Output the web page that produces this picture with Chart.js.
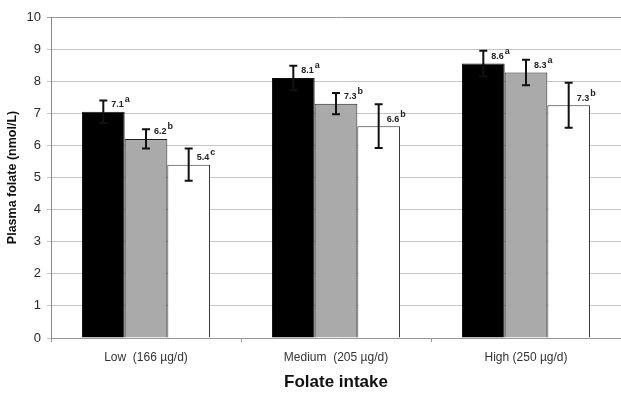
<!DOCTYPE html>
<html>
<head>
<meta charset="utf-8">
<script src="https://cdn.jsdelivr.net/npm/chart.js@4/dist/chart.umd.min.js"></script>
<style>
  html, body { margin: 0; padding: 0; background: #fff; }
  #wrap { width: 621px; height: 396px; }
</style>
</head>
<body>
<div id="wrap"><canvas id="folateChart" width="621" height="396"></canvas></div>
<script>
const categories = ['Low  (166 \u00b5g/d)', 'Medium  (205 \u00b5g/d)', 'High (250 \u00b5g/d)'];

// bar heights
const blackBars = [7.05, 8.1, 8.55];
const grayBars = [6.2, 7.3, 8.27];
const whiteBars = [5.4, 6.6, 7.25];

// +/- error
const blackErr = [0.35, 0.38, 0.4];
const grayErr = [0.3, 0.33, 0.4];
const whiteErr = [0.5, 0.68, 0.7];

// printed labels and significance letters
const blackLabels = ['7.1', '8.1', '8.6'];
const grayLabels = ['6.2', '7.3', '8.3'];
const whiteLabels = ['5.4', '6.6', '7.3'];
const blackLetters = ['a', 'a', 'a'];
const grayLetters = ['b', 'b', 'a'];
const whiteLetters = ['c', 'b', 'b'];

const yTicks = [0, 1, 2, 3, 4, 5, 6, 7, 8, 9, 10];

const fontFamily = 'Arial, "Liberation Sans", Helvetica, sans-serif';

const extras = [
  { err: blackErr, labels: blackLabels, letters: blackLetters },
  { err: grayErr, labels: grayLabels, letters: grayLetters },
  { err: whiteErr, labels: whiteLabels, letters: whiteLetters }
];

const errorBars = {
  id: 'errorBars',
  afterDatasetsDraw(chart) {
    const ctx = chart.ctx;
    const y = chart.scales.y;
    chart.data.datasets.forEach((ds, di) => {
      const meta = chart.getDatasetMeta(di);
      const ex = extras[di];
      meta.data.forEach((bar, i) => {
        const v = ds.data[i];
        const top = y.getPixelForValue(v + ex.err[i]);
        const bot = y.getPixelForValue(v - ex.err[i]);
        ctx.save();
        ctx.strokeStyle = '#111';
        ctx.lineWidth = 2;
        ctx.beginPath();
        ctx.moveTo(bar.x, top);
        ctx.lineTo(bar.x, bot);
        ctx.moveTo(bar.x - 4, top);
        ctx.lineTo(bar.x + 4, top);
        ctx.moveTo(bar.x - 4, bot);
        ctx.lineTo(bar.x + 4, bot);
        ctx.stroke();

        // value label + superscript letter
        ctx.fillStyle = '#222';
        ctx.textBaseline = 'middle';
        ctx.textAlign = 'left';
        ctx.font = 'bold 9px ' + fontFamily;
        const lx = bar.x + 8;
        const ly = bar.y - 7;
        ctx.fillText(ex.labels[i], lx, ly);
        const w = ctx.measureText(ex.labels[i]).width;
        ctx.font = 'bold 9px ' + fontFamily;
        ctx.fillText(ex.letters[i], lx + w + 1, ly - 5);
        ctx.restore();
      });
    });
  }
};

new Chart(document.getElementById('folateChart').getContext('2d'), {
  type: 'bar',
  data: {
    labels: categories,
    datasets: [
      { data: blackBars, backgroundColor: '#000', borderColor: '#111', borderWidth: 1 },
      { data: grayBars, backgroundColor: '#aaaaaa', borderColor: '#222', borderWidth: 1 },
      { data: whiteBars, backgroundColor: '#ffffff', borderColor: '#333', borderWidth: 1 }
    ]
  },
  options: {
    responsive: false,
    animation: false,
    devicePixelRatio: 1,
    categoryPercentage: 0.674,
    barPercentage: 1,
    layout: { padding: { top: 17, right: 0, left: 0, bottom: 0 } },
    plugins: {
      legend: { display: false },
      tooltip: { enabled: false }
    },
    scales: {
      x: {
        offset: true,
        afterFit(scale) { scale.height = 58; },
        grid: {
          offset: true,
          drawOnChartArea: false,
          drawTicks: true,
          tickLength: 4,
          color: '#999'
        },
        border: { color: '#999', width: 1 },
        ticks: {
          color: '#333',
          padding: 8,
          maxRotation: 0,
          font: { family: fontFamily, size: 12 }
        },
        title: {
          display: true,
          text: 'Folate intake',
          color: '#111',
          padding: { top: 0, bottom: 3 },
          font: { family: fontFamily, size: 17, weight: 'bold' }
        }
      },
      y: {
        min: 0,
        max: 10,
        afterFit(scale) { scale.width = 51; },
        afterBuildTicks(scale) { scale.ticks = yTicks.map(v => ({ value: v })); },
        grid: {
          color: (c) => c.tick && c.tick.value === 10 ? '#999' : '#c4c4c4',
          lineWidth: 1,
          tickLength: 4
        },
        border: { color: '#888', width: 1 },
        ticks: {
          color: '#2a2a2a',
          padding: 6,
          font: { family: fontFamily, size: 13 }
        },
        title: {
          display: true,
          text: 'Plasma folate (nmol/L)',
          color: '#111',
          padding: { top: 5, bottom: 0 },
          font: { family: fontFamily, size: 12.5, weight: 'bold' }
        }
      }
    }
  },
  plugins: [errorBars]
});
</script>
</body>
</html>
